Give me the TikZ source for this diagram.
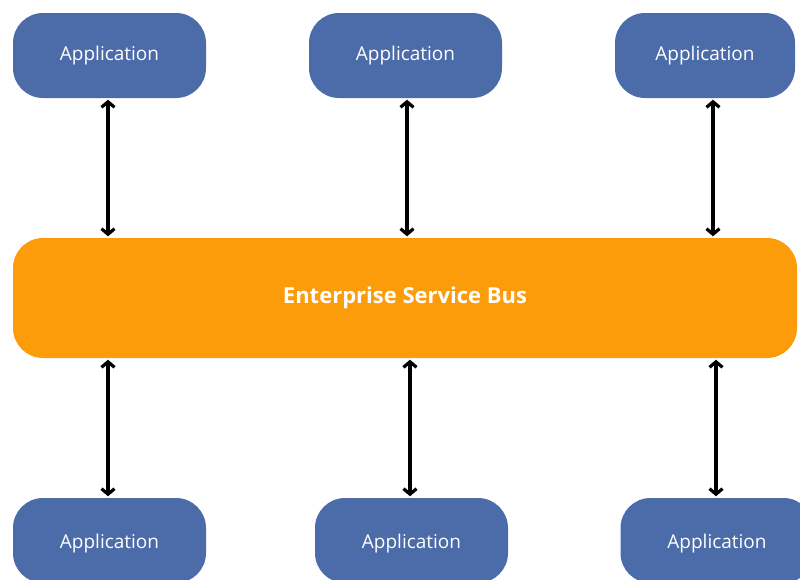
\documentclass[tikz,border=0pt]{standalone}
\usepackage{fontspec}
\setmainfont{Open Sans}
\usetikzlibrary{arrows.meta}
\definecolor{appblue}{HTML}{4B6BA9}
\definecolor{busorange}{HTML}{FD9C0B}
\begin{document}
\begin{tikzpicture}[x=1pt,y=-1pt,
  appbox/.style={fill=appblue, rounded corners=30pt, minimum height=85pt,
    text=white, font=\fontsize{19}{22}\selectfont, inner sep=0pt},
  lowbox/.style={appbox, text height=15pt, text depth=0pt},
  busbox/.style={fill=busorange, rounded corners=30pt, minimum width=784pt,
    minimum height=120pt, text=white, font=\fontsize{22}{26}\selectfont\bfseries, inner sep=0pt},
  link/.style={line width=3.2pt, {Straight Barb[length=5.5pt,width=13pt,line width=3.2pt]}-{Straight Barb[length=5.5pt,width=13pt,line width=3.2pt]}, shorten <=1.5pt, shorten >=1.5pt}]
\useasboundingbox (0,0) rectangle (800,579);
\clip (0,0) rectangle (800,579);
% applications above the bus
\node[appbox, minimum width=193pt] (t1) at (109.5,55.5) {Application};
\node[appbox, minimum width=193pt] (t2) at (405.5,55.5) {Application};
\node[appbox, minimum width=180pt] (t3) at (705,55.5) {Application};
% the bus
\node[busbox] (bus) at (405,298) {Enterprise Service Bus};
% applications below the bus
\node[lowbox, minimum width=193pt] (b1) at (109.5,540.5) {Application};
\node[lowbox, minimum width=193pt] (b2) at (411.5,540.5) {Application};
\node[lowbox, minimum width=193pt] (b3) at (717,540.5) {Application};
% two-way links
\draw[link] ([xshift=-1.5pt]t1.south) -- ([xshift=-1.5pt]t1.south |- bus.north);
\draw[link] ([xshift=1.5pt]t2.south) -- ([xshift=1.5pt]t2.south |- bus.north);
\draw[link] ([xshift=8pt]t3.south) -- ([xshift=8pt]t3.south |- bus.north);
\draw[link] ([xshift=-1.5pt]b1.north |- bus.south) -- ([xshift=-1.5pt]b1.north);
\draw[link] ([xshift=-1.5pt]b2.north |- bus.south) -- ([xshift=-1.5pt]b2.north);
\draw[link] ([xshift=-1pt]b3.north |- bus.south) -- ([xshift=-1pt]b3.north);
\end{tikzpicture}
\end{document}
